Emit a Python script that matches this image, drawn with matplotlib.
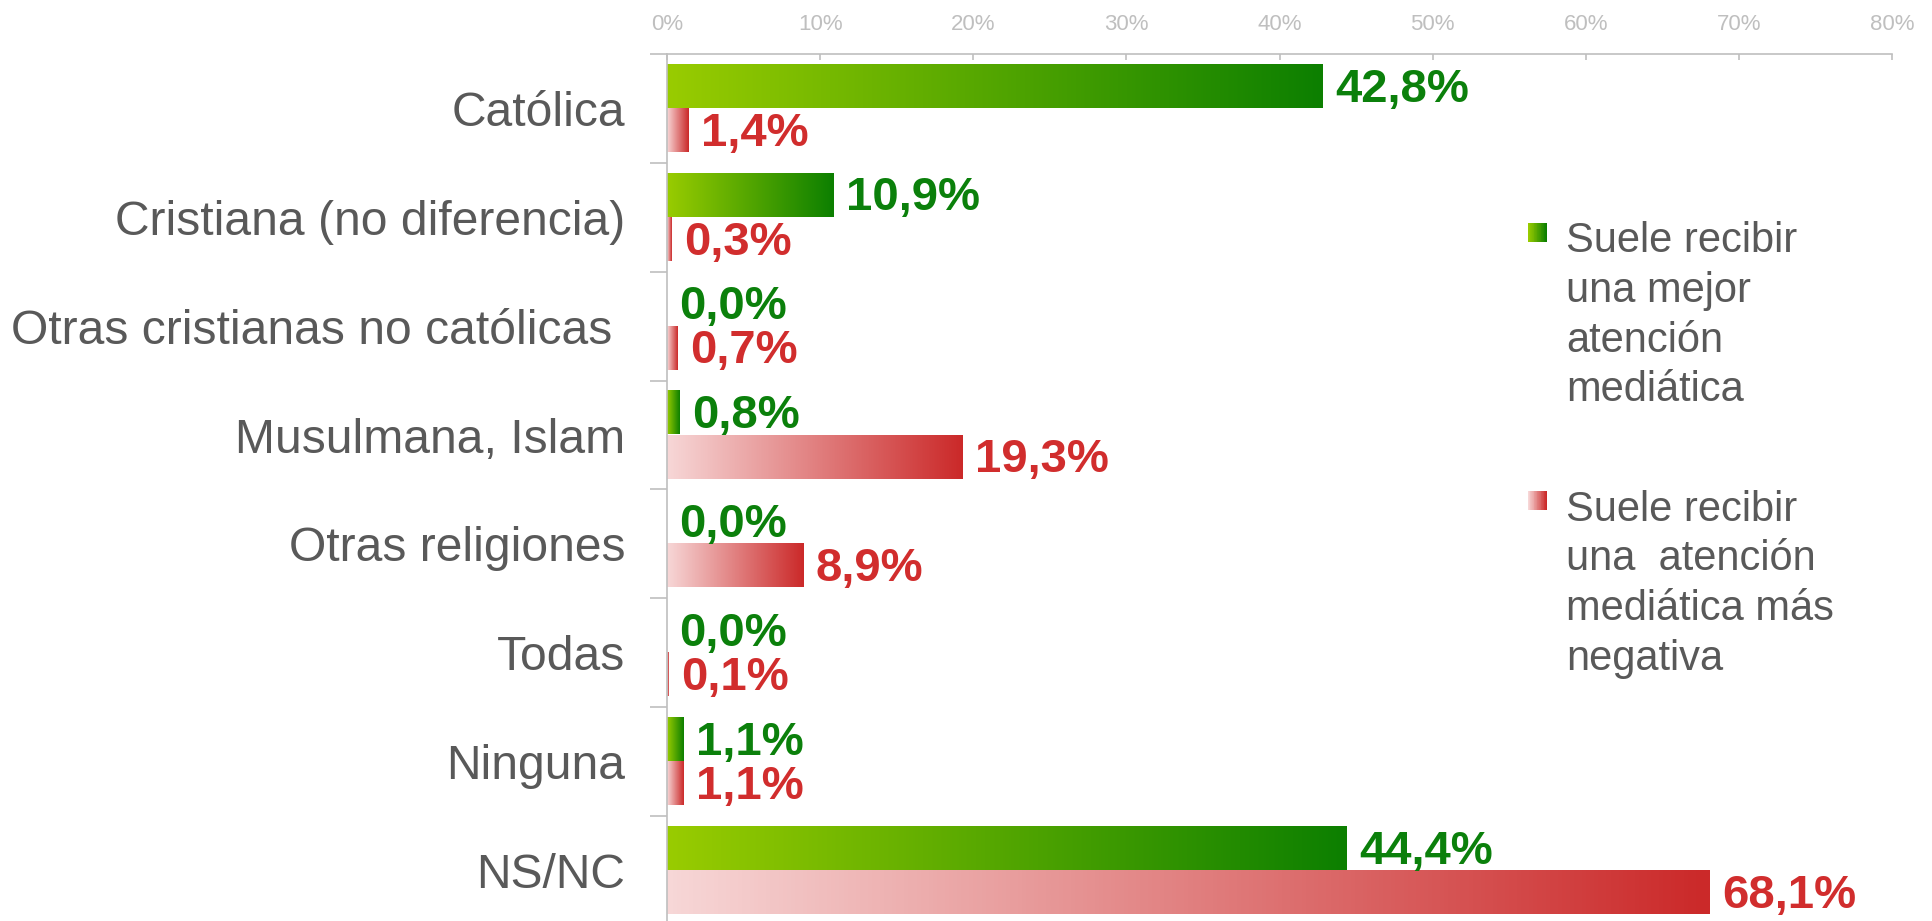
import numpy as np
import matplotlib
matplotlib.use("Agg")
import matplotlib.pyplot as plt
from matplotlib.colors import LinearSegmentedColormap
from matplotlib.patches import Rectangle, Patch
from matplotlib.legend_handler import HandlerBase
from matplotlib.ticker import FixedLocator, FuncFormatter

plt.rcParams['font.family'] = ['Liberation Sans', 'DejaVu Sans']

# ---- data ----
categories = ['Católica', 'Cristiana (no diferencia)', 'Otras cristianas no católicas ',
              'Musulmana, Islam', 'Otras religiones', 'Todas', 'Ninguna', 'NS/NC']
mejor = [42.8, 10.9, 0.0, 0.8, 0.0, 0.0, 1.1, 44.4]
negativa = [1.4, 0.3, 0.7, 19.3, 8.9, 0.1, 1.1, 68.1]
series_labels = ['Suele recibir\nuna mejor\natención\nmediática',
                 'Suele recibir\nuna  atención\nmediática más\nnegativa']
xticks = [0, 10, 20, 30, 40, 50, 60, 70, 80]

# ---- styles ----
GREEN0, GREEN1 = '#99CC00', '#0C7F00'
RED0, RED1 = '#F7D7D7', '#CB2929'
GREEN_TXT, RED_TXT = '#0B800B', '#D12D2D'
GREY_TXT = '#595959'
AXIS_C = '#BFBFBF'

cm_green = LinearSegmentedColormap.from_list('g', [GREEN0, GREEN1])
cm_red = LinearSegmentedColormap.from_list('r', [RED0, RED1])

fig = plt.figure(figsize=(19.33, 9.21), dpi=100)
ax = fig.add_axes([0.3451, -0.0043, 0.6337, 0.9457])

grad = np.linspace(0, 1, 256).reshape(1, -1)
bar_h = 0.40
off_g = -0.205
off_r = 0.200

for i, (g, r) in enumerate(zip(mejor, negativa)):
    for val, off, cm, col in ((g, off_g, cm_green, GREEN_TXT), (r, off_r, cm_red, RED_TXT)):
        yc = i + off
        if val > 0:
            ax.imshow(grad, cmap=cm, aspect='auto', interpolation='bilinear',
                      extent=(0, val, yc + bar_h / 2, yc - bar_h / 2), zorder=2)
        ax.annotate(f"{val:.1f}%".replace('.', ','), xy=(val, yc), xytext=(9, -2.5),
                    textcoords='offset points', va='center', ha='left',
                    fontsize=34, fontweight='bold', color=col, zorder=3)

ax.set_xlim(0, 80)
ax.set_ylim(len(categories) - 0.5, -0.5)

# x axis on top
ax.xaxis.set_ticks_position('top')
ax.xaxis.set_label_position('top')
ax.set_xticks(xticks)
ax.xaxis.set_major_formatter(FuncFormatter(lambda v, p: f"{v:.0f}%"))
ax.tick_params(axis='x', direction='in', length=4, width=1.2, color=AXIS_C,
               labelsize=16, labelcolor=AXIS_C, pad=14)

# y axis
ax.set_yticks(range(len(categories)))
ax.set_yticklabels(categories)
ax.yaxis.set_minor_locator(FixedLocator(np.arange(-0.5, len(categories), 1.0)))
ax.tick_params(axis='y', which='major', length=0, labelsize=34.6, labelcolor=GREY_TXT, pad=30)
ax.tick_params(axis='y', which='minor', length=12, width=1.2, color=AXIS_C, direction='out')

for s in ('right', 'bottom'):
    ax.spines[s].set_visible(False)
for s in ('top', 'left'):
    ax.spines[s].set_color(AXIS_C)
    ax.spines[s].set_linewidth(1.2)
ax.set_facecolor('none')


class GradHandler(HandlerBase):
    def __init__(self, c0, c1, yoff=2.02, n=24, **kw):
        super().__init__(**kw)
        self.cm = LinearSegmentedColormap.from_list('h', [c0, c1])
        self.yoff = yoff
        self.n = n

    def create_artists(self, legend, orig_handle, xdescent, ydescent, width,
                       height, fontsize, trans):
        s = width
        y0 = -ydescent + height / 2 - s / 2 + self.yoff * fontsize
        arts = []
        for k in range(self.n):
            arts.append(Rectangle((-xdescent + k * s / self.n, y0), s / self.n * 1.05, s,
                                  facecolor=self.cm(k / (self.n - 1)), edgecolor='none',
                                  transform=trans))
        return arts


h1 = Patch(facecolor=GREEN1)
h2 = Patch(facecolor=RED1)
leg = fig.legend(handles=[h1, h2], labels=series_labels, loc='upper left',
                 bbox_to_anchor=(0.7905, 0.760), frameon=False, fontsize=30,
                 labelcolor=GREY_TXT, handlelength=0.45, handleheight=0.45,
                 handletextpad=0.47, labelspacing=1.9, borderpad=0, borderaxespad=0,
                 handler_map={h1: GradHandler(GREEN0, GREEN1), h2: GradHandler(RED0, RED1)})
for t in leg.get_texts():
    t.set_linespacing(1.315)

fig.savefig('out.png', dpi=100)
